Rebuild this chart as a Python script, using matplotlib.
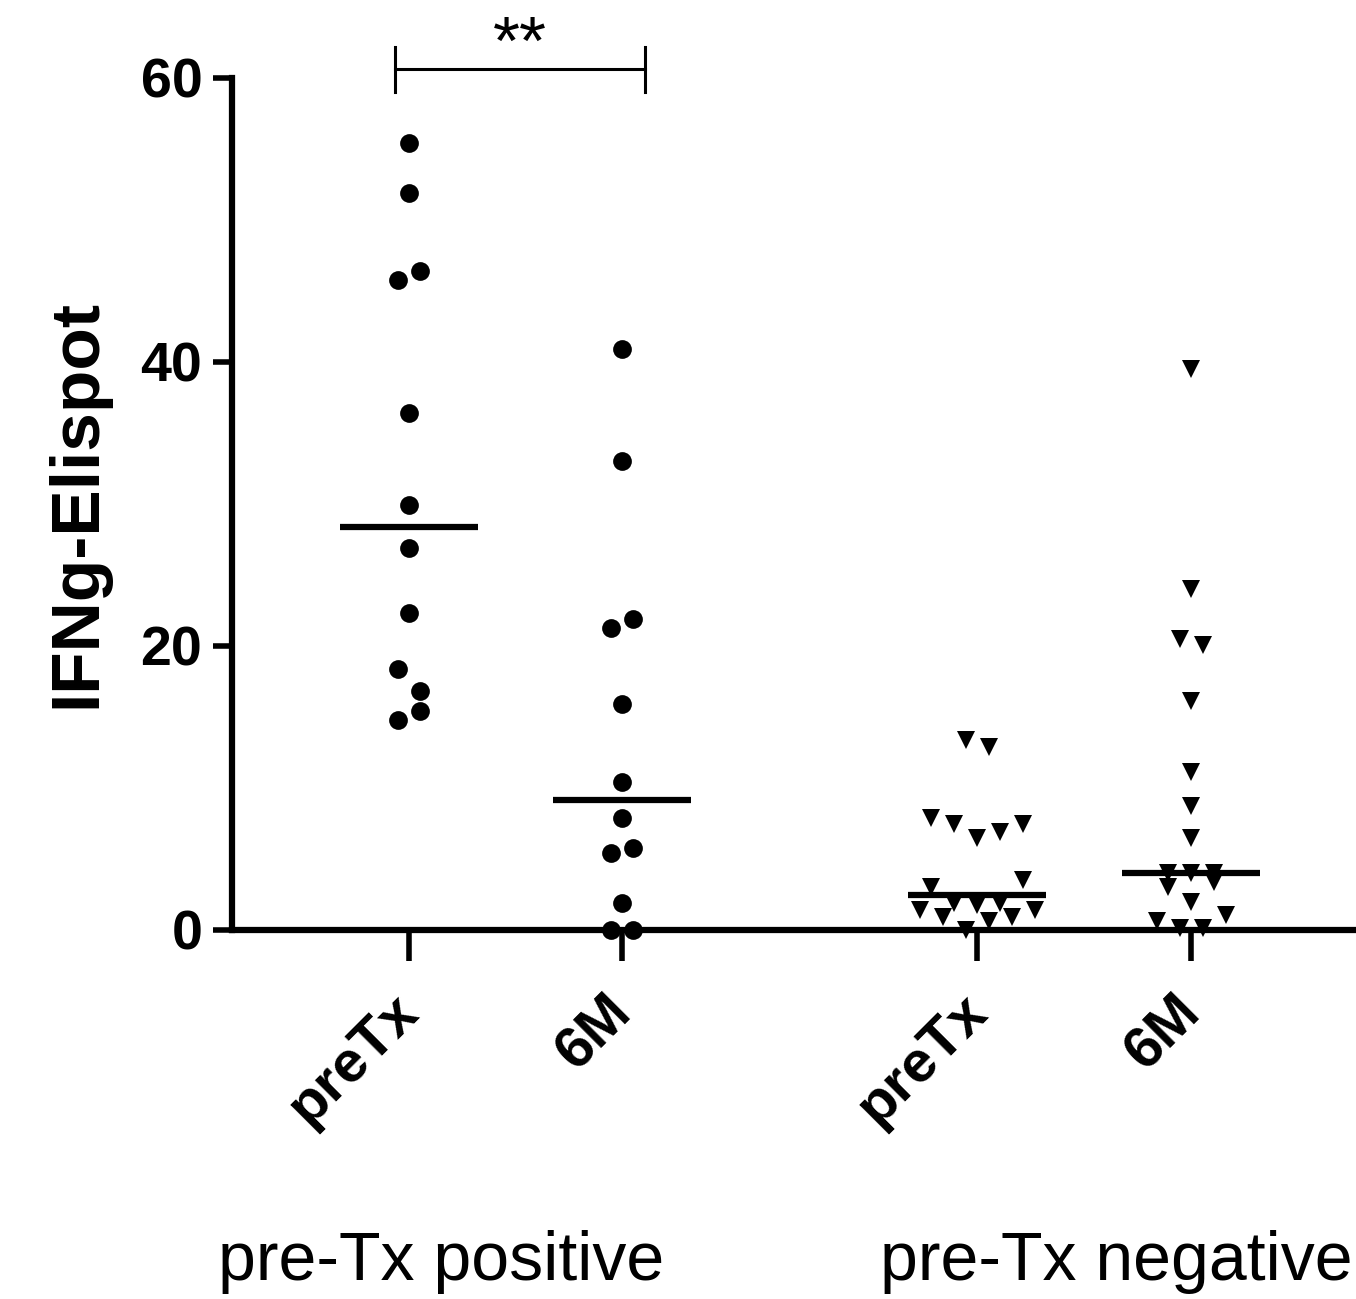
import numpy as np
import matplotlib
matplotlib.use("Agg")
import matplotlib.pyplot as plt
import matplotlib.transforms as mtransforms

# ---------------- data ----------------
tick_labels = ["preTx", "6M", "preTx", "6M"]
group_labels = ["pre-Tx positive", "pre-Tx negative"]
y_label = "IFNg-Elispot"
sig_label = "**"

pos_preTx = [55.4, 51.9, 45.8, 46.4, 36.4, 29.9, 26.9, 22.3, 18.4, 16.8, 15.4, 14.8]
pos_6M = [40.9, 33.0, 21.3, 21.9, 15.9, 10.4, 7.9, 5.4, 5.8, 1.9, 0.0, 0.0]
neg_preTx = [13.4, 12.9, 7.9, 7.5, 6.5, 6.9, 7.5, 3.0, 3.5, 1.4, 1.9, 1.76, 1.9, 1.4,
             0.94, 0.94, 0.0, 0.6]
neg_6M = [39.5, 24.0, 20.5, 20.1, 16.1, 11.1, 8.7, 6.5, 4.0, 4.0, 4.0, 3.05, 3.4, 2.0,
          0.6, 1.05, 0.15, 0.15]

# horizontal scatter slots (jitter index) for each point
pos_preTx_slot = [0, 0, -1, 1, 0, 0, 0, 0, -1, 1, 1, -1]
pos_6M_slot = [0, 0, -1, 1, 0, 0, 0, -1, 1, 0, -1, 1]
neg_preTx_slot = [-1, 1, -4, -2, 0, 2, 4, -4, 4, -5, -2, 0, 2, 5, -3, 3, -1, 1]
neg_6M_slot = [0, 0, -1, 1, 0, 0, 0, 0, -2, 0, 2, -2, 2, 0, -3, 3, -1, 1]

font = "Liberation Sans"

# ---------------- layout ----------------
W, H = 1356, 1299
fig = plt.figure(figsize=(W / 100, H / 100), dpi=100)
ax_left, ax_right, ax_bottom, ax_top = 231.5, 1356, 930, 78
ax = fig.add_axes([ax_left / W, 1 - ax_bottom / H, (ax_right - ax_left) / W,
                   (ax_bottom - ax_top) / H])

positions = [1.0, 2.0, 3.667, 4.672]
groups = [pos_preTx, pos_6M, neg_preTx, neg_6M]
slots = [pos_preTx_slot, pos_6M_slot, neg_preTx_slot, neg_6M_slot]
markers = ["o", "o", "v", "v"]
msizes = [13.5, 13.5, 13.5, 13.5]
steps = [0.053, 0.053, 0.054, 0.054]

for p, vals, sl, mk, ms, st in zip(positions, groups, slots, markers, msizes, steps):
    xs = p + np.array(sl) * st
    ax.plot(xs, vals, linestyle="none", marker=mk, markersize=ms, color="black",
            markeredgewidth=0, clip_on=False, zorder=3)
    med = np.median(vals)
    ax.hlines(med, p - 0.325, p + 0.325, color="black", linewidth=4.5, zorder=4)

ax.set_xlim(0.167, 5.446)
ax.set_ylim(0, 60)

for s in ["top", "right"]:
    ax.spines[s].set_visible(False)
for s in ["left", "bottom"]:
    ax.spines[s].set_linewidth(4.5)
    ax.spines[s].set_color("black")

ax.set_yticks([0, 20, 40, 60])
ax.set_yticklabels(["0", "20", "40", "60"], fontfamily=font, fontweight="bold",
                   fontsize=40)
ax.tick_params(axis="y", length=14, width=4, pad=7)

ax.set_xticks(positions)
ax.set_xticklabels(tick_labels, fontfamily=font, fontweight="bold", fontsize=42,
                   rotation=45, ha="right", va="top", rotation_mode="anchor")
ax.tick_params(axis="x", length=22, width=4, pad=17)
shift = mtransforms.ScaledTranslation(-18 / 100, 0, fig.dpi_scale_trans)
for lab in ax.get_xticklabels():
    lab.set_transform(lab.get_transform() + shift)

ax.set_ylabel(y_label, fontfamily=font, fontweight="bold", fontsize=50)
ax.yaxis.set_label_coords(-0.109, 0.5)

# significance bracket
x1, x2 = 0.934, 2.108
ax.plot([x1, x2], [60.6, 60.6], color="black", linewidth=2.2, clip_on=False)
ax.plot([x1, x1], [59.0, 62.2], color="black", linewidth=2.2, clip_on=False)
ax.plot([x2, x2], [59.0, 62.2], color="black", linewidth=2.2, clip_on=False)
ax.text((x1 + x2) / 2, 61.0, sig_label, ha="center", va="baseline",
        fontfamily=font, fontsize=50, clip_on=False)

# group labels
fig.text(218 / W, 1 - 1280 / H, group_labels[0], ha="left", va="baseline",
         fontfamily=font, fontsize=49)
fig.text(880 / W, 1 - 1280 / H, group_labels[1], ha="left", va="baseline",
         fontfamily=font, fontsize=49)

fig.savefig("out.png", dpi=100)
